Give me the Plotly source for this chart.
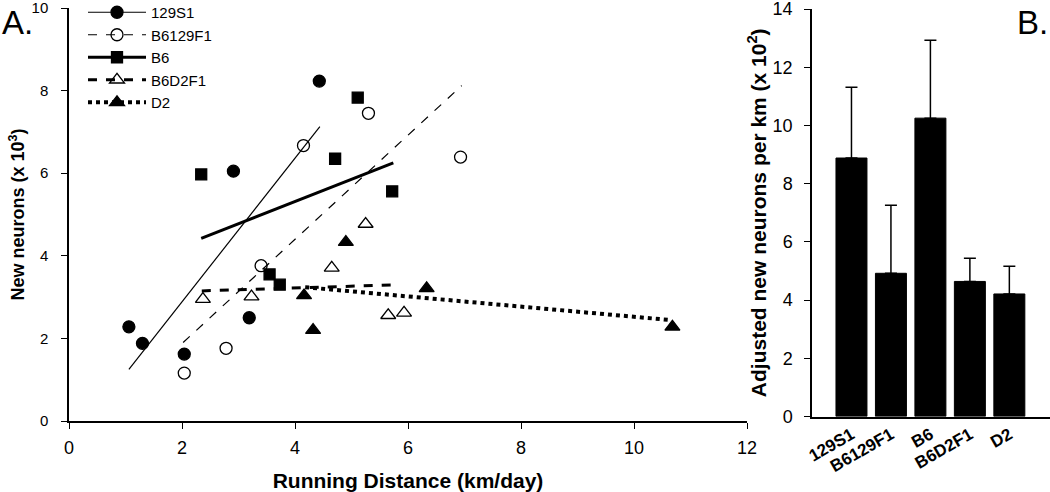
import plotly.graph_objects as go

# ---- Panel A data (running distance km/day vs new neurons x10^3) ----
strains = ["129S1", "B6129F1", "B6", "B6D2F1", "D2"]
x_129S1 = [1.06, 1.30, 2.04, 2.91, 3.19, 4.43]
y_129S1 = [2.28, 1.88, 1.62, 6.05, 2.50, 8.23]
x_B6129F1 = [2.04, 2.78, 3.40, 4.15, 5.30, 6.93]
y_B6129F1 = [1.16, 1.76, 3.76, 6.67, 7.45, 6.39]
x_B6 = [2.34, 3.55, 3.73, 4.71, 5.11, 5.72]
y_B6 = [5.97, 3.55, 3.30, 6.35, 7.83, 5.56]
x_B6D2F1 = [2.37, 3.23, 4.65, 5.25, 5.65, 5.93]
y_B6D2F1 = [2.95, 3.01, 3.71, 4.77, 2.56, 2.62]
x_D2 = [4.16, 4.32, 4.90, 6.33, 10.68]
y_D2 = [3.04, 2.20, 4.33, 3.21, 2.28]

# regression line end points
fit_x_129S1 = [1.06, 4.44]
fit_y_129S1 = [1.25, 7.13]
fit_x_B6129F1 = [2.02, 6.95]
fit_y_B6129F1 = [1.90, 8.12]
fit_x_B6 = [2.34, 5.74]
fit_y_B6 = [4.42, 6.25]
fit_x_B6D2F1 = [2.35, 5.84]
fit_y_B6D2F1 = [3.15, 3.30]
fit_x_D2 = [4.18, 10.6]
fit_y_D2 = [3.24, 2.45]

# ---- Panel B data ----
bar_labels = ["129S1", "B6129F1", "B6", "B6D2F1", "D2"]
bar_values = [8.88, 4.92, 10.25, 4.64, 4.21]
bar_err_upper = [11.31, 7.26, 12.93, 5.44, 5.16]

groups = [
    ("129S1", x_129S1, y_129S1, fit_x_129S1, fit_y_129S1, "circle", "solid", 1.2, 12),
    ("B6129F1", x_B6129F1, y_B6129F1, fit_x_B6129F1, fit_y_B6129F1, "circle-open", "dash", 1.2, 12),
    ("B6", x_B6, y_B6, fit_x_B6, fit_y_B6, "square", "solid", 3, 11),
    ("B6D2F1", x_B6D2F1, y_B6D2F1, fit_x_B6D2F1, fit_y_B6D2F1, "triangle-up-open", "dash", 3, 13),
    ("D2", x_D2, y_D2, fit_x_D2, fit_y_D2, "triangle-up", "dot", 4, 13),
]

fig = go.Figure()
for name, xs, ys, fx, fy, sym, dash, lw, ms in groups:
    fig.add_trace(go.Scatter(
        x=fx, y=fy, mode="lines", line=dict(color="black", width=lw, dash=dash),
        showlegend=False, xaxis="x", yaxis="y", hoverinfo="skip"))
    fig.add_trace(go.Scatter(
        x=xs, y=ys, mode="markers", name=name, legendgroup=name, showlegend=False,
        marker=dict(symbol=sym, size=ms, color="black", line=dict(color="black", width=1.3)),
        xaxis="x", yaxis="y"))
    # legend entry: line + marker
    fig.add_trace(go.Scatter(
        x=[None], y=[None], mode="lines+markers", name=name,
        line=dict(color="black", width=lw, dash=dash),
        marker=dict(symbol=sym, size=ms, color="black", line=dict(color="black", width=1.3)),
        xaxis="x", yaxis="y"))

# upper error amounts from upper bounds
err_plus = [u - v for u, v in zip(bar_err_upper, bar_values)]
fig.add_trace(go.Bar(
    x=bar_labels, y=bar_values, xaxis="x2", yaxis="y2", showlegend=False,
    marker=dict(color="black", line=dict(color="black", width=1)),
    error_y=dict(type="data", symmetric=False, array=err_plus,
                 arrayminus=[0] * len(err_plus), color="black", thickness=1.5, width=6),
))

W, H = 1050, 492
font = "Liberation Sans, Arial, sans-serif"
fig.update_layout(
    width=W, height=H, margin=dict(l=0, r=0, t=0, b=0, autoexpand=False),
    plot_bgcolor="white", paper_bgcolor="white",
    font=dict(family=font, color="black"),
    bargap=0.215,
    showlegend=True,
    legend=dict(x=83 / W, y=1 + 4 / H, xanchor="left", yanchor="top",
                bgcolor="rgba(0,0,0,0)", font=dict(size=15, family=font),
                tracegroupgap=0, itemwidth=58),
    xaxis=dict(domain=[69 / W, 747 / W], range=[0, 12], tickvals=[0, 2, 4, 6, 8, 10, 12],
               showline=True, linecolor="black", linewidth=1.5, ticks="outside",
               ticklen=6, tickcolor="black", showgrid=False, zeroline=False,
               tickfont=dict(size=18), ticklabeloverflow="allow",
               ticklabelstandoff=4, automargin=False,
               title=dict(text="<b>Running Distance (km/day)</b>",
                          font=dict(size=21), standoff=20),
               anchor="y"),
    yaxis=dict(domain=[(H - 421) / H, (H - 8) / H], range=[0, 10], tickvals=[0, 2, 4, 6, 8, 10],
               showline=True, linecolor="black", linewidth=1.5, ticks="outside",
               ticklen=6, tickcolor="black", showgrid=False, zeroline=False,
               tickfont=dict(size=15), ticklabelstandoff=10, automargin=False,
               ticklabeloverflow="allow",
               title=dict(text="<b>New neurons (x 10<sup>3</sup>)</b>", font=dict(size=18), standoff=2),
               anchor="x"),
    xaxis2=dict(domain=[812 / W, 1.0], range=[-1, 5.03], type="category",
                showline=True, linecolor="black", linewidth=1.5, ticks="",
                showgrid=False, zeroline=False, tickangle=-30, automargin=False,
                ticklabeloverflow="allow",
                tickfont=dict(size=17, family=font, weight="bold"),
                anchor="y2"),
    yaxis2=dict(domain=[(H - 416.5) / H, (H - 9) / H], range=[0, 14],
                tickvals=[0, 2, 4, 6, 8, 10, 12, 14],
                showline=True, linecolor="black", linewidth=1.5, ticks="outside",
                ticklen=6, tickcolor="black", showgrid=False, zeroline=False,
                tickfont=dict(size=18), ticklabelstandoff=8, automargin=False,
                ticklabeloverflow="allow",
                title=dict(text="<b>Adjusted new neurons per km (x 10<sup>2</sup>)</b>",
                           font=dict(size=21), standoff=0),
                anchor="x2"),
    annotations=[
        dict(text="A.", x=0, y=1 - 2 / H, xref="paper", yref="paper", xanchor="left",
             yanchor="top", showarrow=False, font=dict(size=33)),
        dict(text="B.", x=1, y=1 - 2 / H, xref="paper", yref="paper", xanchor="right",
             yanchor="top", showarrow=False, font=dict(size=33)),
    ],
)

fig.write_html("out.html", post_script="document.body.style.margin='0';",
               config={"displayModeBar": False})
